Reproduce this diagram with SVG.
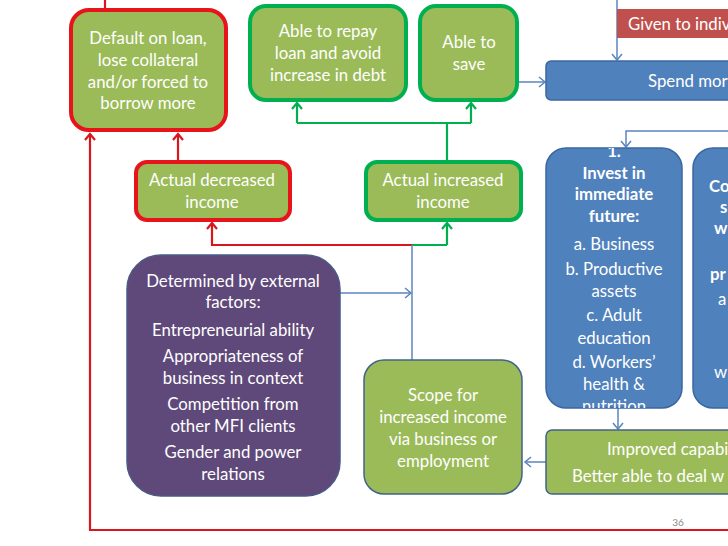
<svg xmlns="http://www.w3.org/2000/svg" width="728" height="546" viewBox="0 0 728 546">
<defs>
<style>
.t{font-family:Lato,"Open Sans",sans-serif;font-size:16.8px;fill:#fff;text-anchor:middle}
.b{font-weight:bold}
.s{text-anchor:start}
.g{fill:#9BBB59}
.rs{stroke:#E8141B;stroke-width:4}
.gs{stroke:#00B050;stroke-width:4}
.bl{fill:#4F81BD;stroke:#3A67A0;stroke-width:1.5}
.sl{stroke:#41638C;stroke-width:1.5}
.cr{fill:none;stroke:#D9161C;stroke-width:2.2}
.cg{fill:none;stroke:#00B050;stroke-width:2.2}
.cb{fill:none;stroke:#5B84BE;stroke-width:1.5}
</style>
<marker id="ar" markerUnits="userSpaceOnUse" markerWidth="14" markerHeight="14" refX="0" refY="0" viewBox="-8 -7 10 14" orient="auto" overflow="visible"><path d="M-6,-5 L0,0 L-6,5" fill="none" stroke="#D9161C" stroke-width="2.2"/></marker>
<marker id="ag" markerUnits="userSpaceOnUse" markerWidth="14" markerHeight="14" refX="0" refY="0" viewBox="-8 -7 10 14" orient="auto" overflow="visible"><path d="M-6,-5 L0,0 L-6,5" fill="none" stroke="#00B050" stroke-width="2.2"/></marker>
<marker id="ab" markerUnits="userSpaceOnUse" markerWidth="14" markerHeight="14" refX="0" refY="0" viewBox="-8 -7 10 14" orient="auto" overflow="visible"><path d="M-6,-5 L0,0 L-6,5" fill="none" stroke="#5B84BE" stroke-width="1.5"/></marker>
<clipPath id="cInv"><rect x="546" y="148" width="136" height="260" rx="20"/></clipPath>
</defs>
<rect width="728" height="546" fill="#fff"/>

<g id="connectors">
<path class="cr" d="M105,0 V9"/>
<path class="cr" d="M728,530 H90 V134" marker-end="url(#ar)"/>
<path class="cr" d="M178,160 V134" marker-end="url(#ar)"/>
<path class="cr" d="M412,245 H212 V223" marker-end="url(#ar)"/>
<path class="cg" d="M447,160 V123"/>
<path class="cg" d="M297,123 H471"/>
<path class="cg" d="M297,123 V103" marker-end="url(#ag)"/>
<path class="cg" d="M471,123 V103" marker-end="url(#ag)"/>
<path class="cg" d="M447,245 V223" marker-end="url(#ag)"/>
<path class="cg" d="M412,245 H447"/>
<path class="cb" d="M617,0 V60" marker-end="url(#ab)"/>
<path class="cb" d="M518,82 H545" marker-end="url(#ab)"/>
<path class="cb" d="M728,131 H626 V147" marker-end="url(#ab)"/>
<path class="cb" d="M618,408 V429" marker-end="url(#ab)"/>
<path class="cb" d="M546,462 H525" marker-end="url(#ab)"/>
<path class="cb" d="M340,293 H411" marker-end="url(#ab)"/>
<path class="cb" d="M412,360 V245"/>
</g>

<g id="default">
<rect x="71" y="10" width="155" height="120" rx="18" class="g rs"/>
<text class="t" x="148" y="44">Default on loan,</text>
<text class="t" x="148" y="66">lose collateral</text>
<text class="t" x="148" y="88">and/or forced to</text>
<text class="t" x="148" y="109">borrow more</text>
</g>

<g id="repay">
<rect x="250" y="6" width="156" height="94" rx="16" class="g gs"/>
<text class="t" x="328" y="37">Able to repay</text>
<text class="t" x="328" y="59">loan and avoid</text>
<text class="t" x="328" y="81">increase in debt</text>
</g>

<g id="save">
<rect x="420" y="6" width="97" height="94" rx="16" class="g gs"/>
<text class="t" x="469" y="48">Able to</text>
<text class="t" x="469" y="70">save</text>
</g>

<g id="given">
<rect x="617" y="9" width="115" height="29" fill="#C0504D"/>
<text class="t s" x="628" y="30">Given to indiv</text>
</g>

<g id="spend">
<rect x="546" y="61" width="190" height="39" rx="5" class="bl"/>
<text class="t s" x="648" y="87">Spend mor</text>
</g>

<g id="decreased">
<rect x="136" y="162" width="154" height="58" rx="11" class="g rs"/>
<text class="t" x="212" y="186">Actual decreased</text>
<text class="t" x="212" y="208">income</text>
</g>

<g id="increased">
<rect x="366" y="162" width="155" height="58" rx="11" class="g gs"/>
<text class="t" x="443" y="186">Actual increased</text>
<text class="t" x="443" y="208">income</text>
</g>

<g id="invest">
<rect x="546" y="148" width="136" height="260" rx="20" class="bl"/>
<g clip-path="url(#cInv)">
<text class="t b" x="614" y="157">1.</text>
<text class="t b" x="614" y="179">Invest in</text>
<text class="t b" x="614" y="200">immediate</text>
<text class="t b" x="614" y="222">future:</text>
<text class="t" x="614" y="250">a. Business</text>
<text class="t" x="614" y="275">b. Productive</text>
<text class="t" x="614" y="297">assets</text>
<text class="t" x="614" y="321">c. Adult</text>
<text class="t" x="614" y="344">education</text>
<text class="t" x="614" y="368">d. Workers’</text>
<text class="t" x="614" y="390">health &amp;</text>
<text class="t" x="614" y="412">nutrition</text>
</g>
</g>

<g id="consume">
<rect x="693" y="148" width="120" height="260" rx="20" class="bl"/>
<text class="t b s" x="709" y="192">Co</text>
<text class="t b s" x="720" y="213">s</text>
<text class="t b s" x="714" y="234">w</text>
<text class="t b s" x="710" y="280">pr</text>
<text class="t s" x="718" y="305">a</text>
<text class="t s" x="714" y="378">w</text>
</g>

<g id="purple">
<rect x="127" y="255" width="213" height="241" rx="34" fill="#5F497A" stroke="#4A5A85" stroke-width="1.5"/>
<text class="t" x="233" y="287">Determined by external</text>
<text class="t" x="233" y="308">factors:</text>
<text class="t" x="233" y="336">Entrepreneurial ability</text>
<text class="t" x="233" y="362">Appropriateness of</text>
<text class="t" x="233" y="384">business in context</text>
<text class="t" x="233" y="410">Competition from</text>
<text class="t" x="233" y="432">other MFI clients</text>
<text class="t" x="233" y="458">Gender and power</text>
<text class="t" x="233" y="480">relations</text>
</g>

<g id="scope">
<rect x="364" y="360" width="158" height="134" rx="20" class="g sl"/>
<text class="t" x="443" y="401">Scope for</text>
<text class="t" x="443" y="423">increased income</text>
<text class="t" x="443" y="445">via business or</text>
<text class="t" x="443" y="467">employment</text>
</g>

<g id="improved">
<rect x="546" y="430" width="190" height="64" rx="6" class="g sl"/>
<text class="t s" x="607" y="455">Improved capabi</text>
<text class="t s" x="572" y="482">Better able to deal w</text>
</g>

<text x="678" y="526" style="font-family:Lato,sans-serif;font-size:10px;fill:#8A8A8A;text-anchor:middle">36</text>
</svg>
